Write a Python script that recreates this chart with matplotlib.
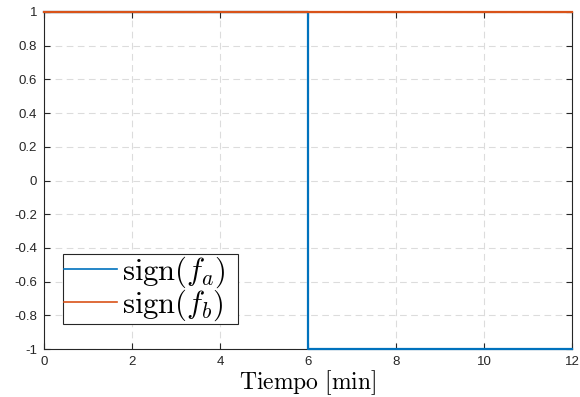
import matplotlib.pyplot as plt

# sign(f_a) steps from +1 to -1 at t = 6 min; sign(f_b) stays at +1
t_a = [0, 6, 6, 12]
sign_a = [1, 1, -1, -1]
t_b = [0, 12]
sign_b = [1, 1]

x_ticks = [0, 2, 4, 6, 8, 10, 12]
y_ticks = [-1, -0.8, -0.6, -0.4, -0.2, 0, 0.2, 0.4, 0.6, 0.8, 1]
y_labels = ['-1', '-0.8', '-0.6', '-0.4', '-0.2', '0', '0.2', '0.4', '0.6', '0.8', '1']

plt.rcParams['mathtext.fontset'] = 'cm'
plt.rcParams['font.family'] = ['Liberation Sans', 'DejaVu Sans']

fig = plt.figure(figsize=(5.8, 3.97), dpi=100)
ax = fig.add_axes([44/580, 1 - 349/397, (572-44)/580, (349-12)/397])

ax.plot(t_a, sign_a, color='#0072BD', lw=1.6, clip_on=False, zorder=3,
        label=r'$\mathrm{sign}(f_a)$')
ax.plot(t_b, sign_b, color='#D95319', lw=1.6, clip_on=False, zorder=3,
        label=r'$\mathrm{sign}(f_b)$')

ax.set_xlim(0, 12)
ax.set_ylim(-1, 1)
ax.set_xticks(x_ticks)
ax.set_yticks(y_ticks)
ax.set_yticklabels(y_labels)
ax.tick_params(direction='in', top=True, right=True, length=4, width=0.8,
               labelsize=9.5, colors='#262626', pad=5)
ax.grid(True, color='#dcdcdc', linestyle=(0, (6, 4)), lw=0.8)
for s in ax.spines.values():
    s.set_color('#262626')
    s.set_linewidth(0.8)

ax.set_xlabel(r'$\mathrm{Tiempo\ [min]}$', fontsize=17, labelpad=0)

leg = ax.legend(loc='lower left', bbox_to_anchor=(0.036, 0.074, 0.331, 0.2),
                mode='expand', fontsize=22,
                fancybox=False, framealpha=1, edgecolor='#262626',
                handlelength=1.75, handletextpad=0.15, borderpad=0.03,
                labelspacing=-0.08, borderaxespad=0)
leg.get_frame().set_linewidth(0.8)
for h in leg.get_lines():
    h.set_linewidth(1.2)

fig.savefig('out.png', dpi=100)
